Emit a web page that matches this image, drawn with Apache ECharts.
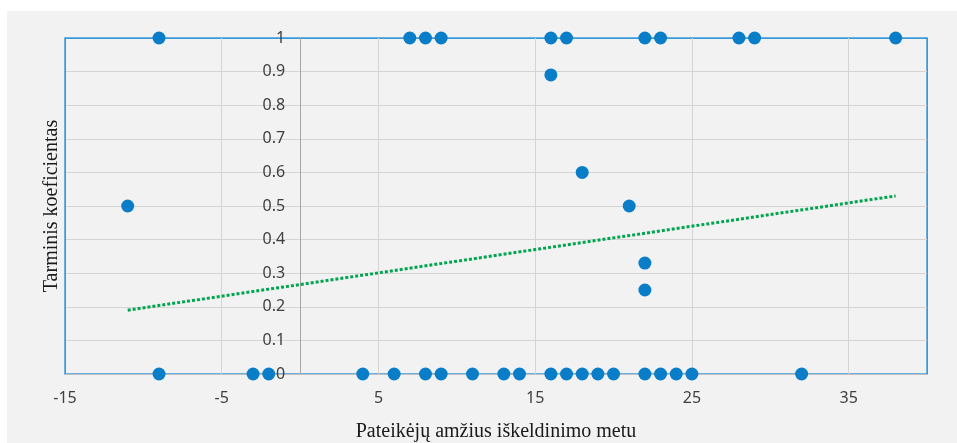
<!DOCTYPE html>
<html>
<head>
<meta charset="utf-8">
<title>Tarminis koeficientas</title>
<script src="https://cdn.jsdelivr.net/npm/echarts@6/dist/echarts.min.js"></script>
<style>
  html, body { margin: 0; padding: 0; background: #ffffff; }
  #chart { position: absolute; left: 7px; top: 11px; width: 950px; height: 432px; background: #f2f2f2; }
</style>
</head>
<body>
<div id="chart"></div>
<script>
// pateikėjų amžius (x) ir tarminis koeficientas (y)
var ageValues = [
  -9, 7, 8, 9, 16, 17, 22, 23, 28, 29, 38,
  16, 18, -11, 21, 22, 22,
  -9, -3, -2, 4, 6, 8, 9, 11, 13, 14, 16, 17, 18, 19, 20, 22, 23, 24, 25, 32
]
var coefValues = [
  1, 1, 1, 1, 1, 1, 1, 1, 1, 1, 1,
  0.89, 0.6, 0.5, 0.5, 0.33, 0.25,
  0, 0, 0, 0, 0, 0, 0, 0, 0, 0, 0, 0, 0, 0, 0, 0, 0, 0, 0, 0
]
// tiesinė tendencija (galiniai taškai)
var trendX = [-11, 38]
var trendY = [0.19, 0.53]
// ašies padalos
var xTickLabels = ['-15', '-5', '5', '15', '25', '35']
var xMin = -15
var xMax = 40

var points = ageValues.map(function(a, i) { return [a, coefValues[i]] })
var trend = trendX.map(function(a, i) { return [a, trendY[i]] })

var serif = 'Liberation Serif'
var sans = 'Noto Sans'
var frameBlue = '#3a9ad9'
var gridGrey = '#d4d4d4'

var gridLeft = 58
var gridRight = 30
var plotWidth = 950 - gridLeft - gridRight
// y axis sits on x = 0
var yAxisShift = plotWidth * (0 - xMin) / (xMax - xMin)

var chart = echarts.init(document.getElementById('chart'))
chart.setOption({
  animation: false,
  grid: {
    left: gridLeft,
    top: 27,
    right: gridRight,
    bottom: 69,
    outerBoundsMode: 'none',
    containLabel: false,
    show: true,
    backgroundColor: 'transparent',
    borderColor: frameBlue,
    borderWidth: 1.5
  },
  xAxis: [
    {
      // data axis
      type: 'value',
      min: xMin,
      max: xMax,
      show: false
    },
    {
      // display axis, step 10 starting at -15
      type: 'value',
      min: 0,
      max: xMax - xMin,
      interval: 10,
      position: 'bottom',
      axisLine: { show: true, onZero: false, lineStyle: { color: '#bfbfbf', width: 1 } },
      axisTick: { show: false },
      axisLabel: {
        color: '#404040',
        fontFamily: sans,
        fontSize: 16,
        margin: 16,
        formatter: function(v) {
          var i = Math.round(v / 10)
          return xTickLabels[i] !== undefined && v === i * 10 ? xTickLabels[i] : ''
        }
      },
      splitLine: { show: true, lineStyle: { color: [frameBlue, gridGrey, gridGrey, gridGrey, gridGrey, gridGrey, frameBlue], width: 1 } },
      name: 'Pateikėjų amžius iškeldinimo metu',
      nameLocation: 'middle',
      nameGap: 48,
      nameTextStyle: { color: '#1a1a1a', fontFamily: serif, fontSize: 20 }
    }
  ],
  yAxis: [
    {
      type: 'value',
      min: 0,
      max: 1,
      interval: 0.1,
      position: 'left',
      offset: -yAxisShift,
      axisLine: { show: true, onZero: false, lineStyle: { color: '#a6a6a6', width: 1 } },
      axisTick: { show: false },
      axisLabel: {
        color: '#404040',
        fontFamily: sans,
        fontSize: 16,
        margin: 15,
        formatter: function(v) { return String(Math.round(v * 10) / 10) }
      },
      splitLine: {
        show: true,
        lineStyle: {
          color: [gridGrey, gridGrey, gridGrey, gridGrey, gridGrey, gridGrey, gridGrey, gridGrey, gridGrey, gridGrey, frameBlue],
          width: 1
        }
      }
    },
    {
      // axis title only
      type: 'value',
      min: 0,
      max: 1,
      position: 'left',
      axisLine: { show: false, onZero: false },
      axisTick: { show: false },
      axisLabel: { show: false },
      splitLine: { show: false },
      name: 'Tarminis koeficientas',
      nameLocation: 'middle',
      nameGap: 3,
      nameTextStyle: { color: '#1a1a1a', fontFamily: serif, fontSize: 20 }
    }
  ],
  series: [
    {
      type: 'line',
      xAxisIndex: 0,
      yAxisIndex: 0,
      data: trend,
      symbol: 'none',
      lineStyle: { color: '#00a550', width: 3, type: [3, 2] },
      z: 3
    },
    {
      type: 'scatter',
      xAxisIndex: 0,
      yAxisIndex: 0,
      data: points,
      symbolSize: 13,
      itemStyle: { color: '#0a7dc8', opacity: 1 },
      z: 4,
      clip: false
    }
  ]
})
</script>
</body>
</html>
